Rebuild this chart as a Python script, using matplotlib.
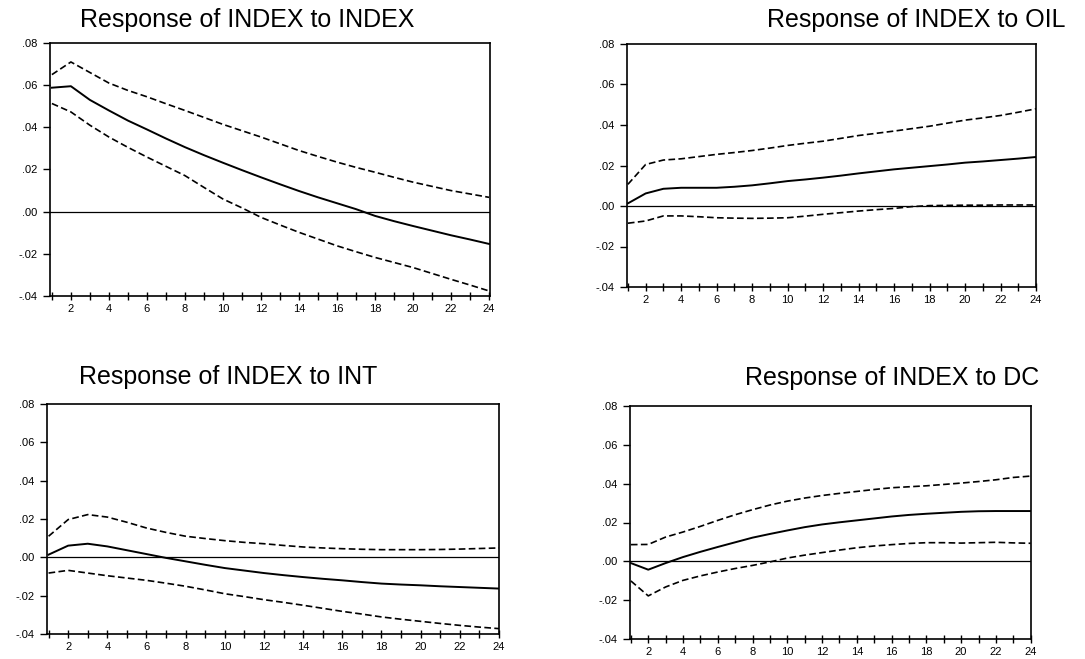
import numpy as np
import matplotlib
matplotlib.use("Agg")
import matplotlib.pyplot as plt
from matplotlib.ticker import FuncFormatter

plt.rcParams['font.family'] = ['Liberation Sans', 'DejaVu Sans']

periods = np.arange(1, 25)

# Response of INDEX to INDEX
idx_mid = [0.0588, 0.0595, 0.0530, 0.0480, 0.0432, 0.0390, 0.0347, 0.0306, 0.0268, 0.0232, 0.0197, 0.0163,
           0.0130, 0.0098, 0.0068, 0.0040, 0.0012, -0.0020, -0.0045, -0.0068, -0.0090, -0.0112, -0.0132, -0.0153]
idx_hi = [0.0650, 0.0710, 0.0660, 0.0610, 0.0575, 0.0545, 0.0512, 0.0480, 0.0447, 0.0414, 0.0384, 0.0354,
          0.0322, 0.0290, 0.0262, 0.0235, 0.0210, 0.0187, 0.0163, 0.0140, 0.0120, 0.0100, 0.0084, 0.0068]
idx_lo = [0.0513, 0.0473, 0.0410, 0.0354, 0.0305, 0.0259, 0.0215, 0.0171, 0.0115, 0.0060, 0.0018, -0.0027,
          -0.0063, -0.0098, -0.0130, -0.0162, -0.0190, -0.0217, -0.0241, -0.0265, -0.0293, -0.0321, -0.0348, -0.0376]

# Response of INDEX to OIL
oil_mid = [0.0013, 0.0062, 0.0085, 0.0090, 0.0090, 0.0090, 0.0095, 0.0102, 0.0112, 0.0123, 0.0131, 0.0140,
           0.0150, 0.0161, 0.0171, 0.0181, 0.0189, 0.0197, 0.0205, 0.0214, 0.0220, 0.0227, 0.0234, 0.0242]
oil_hi = [0.0107, 0.0205, 0.0227, 0.0233, 0.0244, 0.0255, 0.0264, 0.0274, 0.0286, 0.0299, 0.0310, 0.0320,
          0.0334, 0.0348, 0.0359, 0.0370, 0.0382, 0.0394, 0.0409, 0.0424, 0.0435, 0.0447, 0.0463, 0.0480]
oil_lo = [-0.0085, -0.0074, -0.0049, -0.0049, -0.0053, -0.0058, -0.0060, -0.0061, -0.0060, -0.0058, -0.0050, -0.0041,
          -0.0033, -0.0025, -0.0018, -0.0012, -0.0003, 0.0002, 0.0003, 0.0004, 0.0004, 0.0005, 0.0005, 0.0005]

# Response of INDEX to INT
int_mid = [0.0014, 0.0061, 0.0071, 0.0057, 0.0037, 0.0017, -0.0003, -0.0021, -0.0039, -0.0056, -0.0069, -0.0082,
           -0.0093, -0.0103, -0.0112, -0.0120, -0.0129, -0.0137, -0.0142, -0.0146, -0.0151, -0.0155, -0.0159, -0.0163]
int_hi = [0.0110, 0.0197, 0.0223, 0.0210, 0.0183, 0.0153, 0.0130, 0.0110, 0.0098, 0.0087, 0.0078, 0.0071,
          0.0062, 0.0054, 0.0049, 0.0045, 0.0042, 0.0040, 0.0040, 0.0040, 0.0041, 0.0043, 0.0046, 0.0049]
int_lo = [-0.0082, -0.0068, -0.0082, -0.0096, -0.0108, -0.0120, -0.0135, -0.0151, -0.0170, -0.0190, -0.0205, -0.0221,
          -0.0235, -0.0250, -0.0266, -0.0282, -0.0296, -0.0311, -0.0323, -0.0334, -0.0345, -0.0355, -0.0364, -0.0372]

# Response of INDEX to DC
dc_mid = [-0.0009, -0.0043, -0.0009, 0.0022, 0.0049, 0.0074, 0.0098, 0.0122, 0.0141, 0.0159, 0.0176, 0.0190,
          0.0201, 0.0211, 0.0221, 0.0231, 0.0239, 0.0245, 0.0250, 0.0255, 0.0258, 0.0259, 0.0259, 0.0259]
dc_hi = [0.0086, 0.0087, 0.0125, 0.0151, 0.0180, 0.0211, 0.0240, 0.0266, 0.0290, 0.0310, 0.0326, 0.0339,
         0.0350, 0.0360, 0.0370, 0.0379, 0.0384, 0.0389, 0.0396, 0.0403, 0.0411, 0.0420, 0.0432, 0.0439]
dc_lo = [-0.0101, -0.0178, -0.0132, -0.0098, -0.0075, -0.0055, -0.0037, -0.0021, -0.0003, 0.0017, 0.0032, 0.0045,
         0.0058, 0.0070, 0.0079, 0.0086, 0.0092, 0.0096, 0.0096, 0.0094, 0.0096, 0.0098, 0.0095, 0.0093]

titles = ["Response of INDEX to INDEX", "Response of INDEX to OIL",
          "Response of INDEX to INT", "Response of INDEX to DC"]
yticks = [-0.04, -0.02, 0.0, 0.02, 0.04, 0.06, 0.08]

panels = [
    (idx_mid, idx_hi, idx_lo, [50/1085, 1-296/659, 440/1085, 253/659], (0.9, 24.05), (247, 20)),
    (oil_mid, oil_hi, oil_lo, [627/1085, 1-287/659, 409/1085, 243/659], (0.95, 24.0), (916, 20)),
    (int_mid, int_hi, int_lo, [47/1085, 1-634/659, 452/1085, 230/659], (0.92, 24.0), (228, 377)),
    (dc_mid, dc_hi, dc_lo, [630/1085, 1-639/659, 401/1085, 233/659], (0.95, 24.02), (892, 378)),
]


def fmt(v, pos):
    s = "%.2f" % v
    return s.replace("0.", ".", 1)


fig = plt.figure(figsize=(10.85, 6.59), dpi=100)
for (mid, hi, lo, rect, xl, tpos), title in zip(panels, titles):
    ax = fig.add_axes(rect)
    ax.axhline(0, color="k", lw=0.9)
    ax.plot(periods, mid, color="k", lw=1.4)
    ax.plot(periods, hi, color="k", lw=1.2, ls=(0, (4, 2)))
    ax.plot(periods, lo, color="k", lw=1.2, ls=(0, (4, 2)))
    ax.set_xlim(*xl)
    ax.set_ylim(-0.04, 0.08)
    ax.set_yticks(yticks)
    ax.yaxis.set_major_formatter(FuncFormatter(fmt))
    ax.set_xticks(periods)
    ax.set_xticklabels([str(p) if p % 2 == 0 else "" for p in periods])
    ax.tick_params(axis="x", direction="inout", length=6, width=1, labelsize=8, pad=3)
    ax.tick_params(axis="y", direction="out", length=5, width=1, labelsize=8, pad=4)
    for sp in ax.spines.values():
        sp.set_linewidth(1.2)
    fig.text(tpos[0]/1085, 1 - tpos[1]/659, title, ha="center", va="center", fontsize=18)

fig.savefig("out.png", dpi=100)
